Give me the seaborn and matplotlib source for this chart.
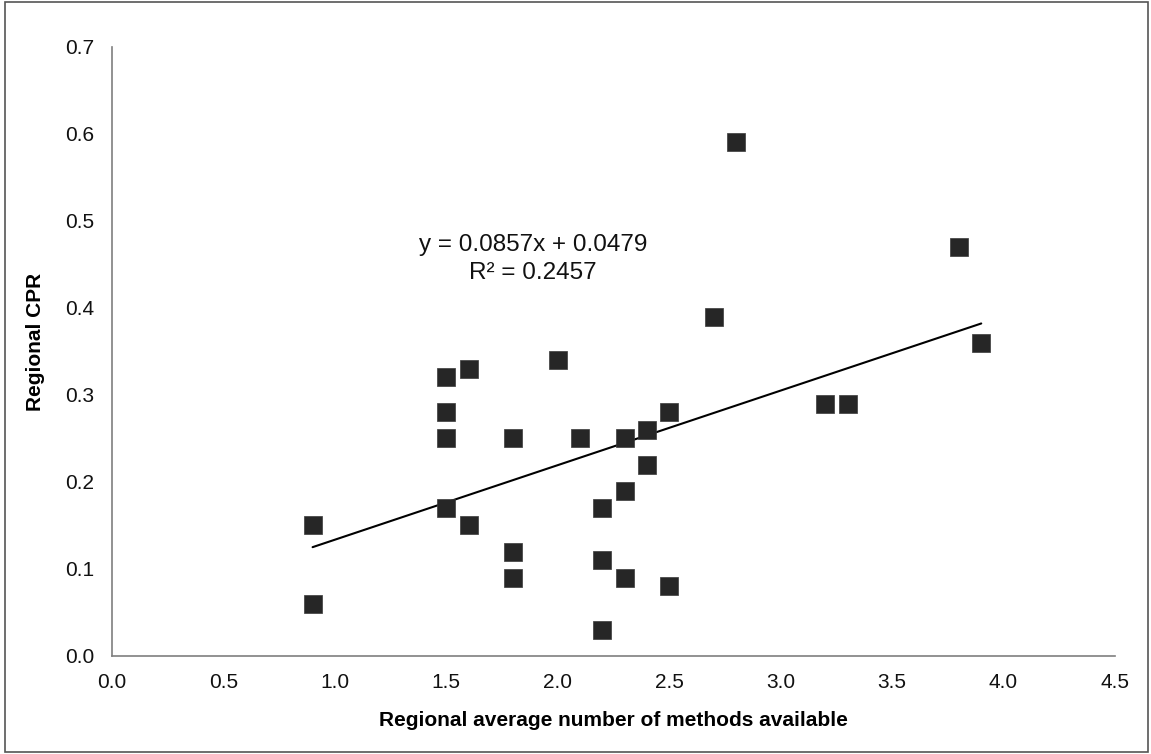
import pandas as pd
import matplotlib.pyplot as plt
import seaborn as sns
from matplotlib.patches import Rectangle

# --- DATOS ---
metodos = [0.9, 0.9, 1.5, 1.5, 1.5, 1.5, 1.6, 1.6, 1.8, 1.8, 1.8, 2.0, 2.1, 2.2, 2.2,
           2.2, 2.3, 2.3, 2.3, 2.4, 2.4, 2.5, 2.5, 2.7, 2.8, 3.2, 3.3, 3.8, 3.9]
cpr = [0.15, 0.06, 0.32, 0.28, 0.25, 0.17, 0.33, 0.15, 0.25, 0.12, 0.09, 0.34, 0.25, 0.17, 0.11,
       0.03, 0.25, 0.19, 0.09, 0.26, 0.22, 0.28, 0.08, 0.39, 0.59, 0.29, 0.29, 0.47, 0.36]
x_ticks = [0.0, 0.5, 1.0, 1.5, 2.0, 2.5, 3.0, 3.5, 4.0, 4.5]
y_ticks = [0.0, 0.1, 0.2, 0.3, 0.4, 0.5, 0.6, 0.7]
ecuacion = "y = 0.0857x + 0.0479"
r2 = "R² = 0.2457"

df = pd.DataFrame({'metodos': metodos, 'cpr': cpr})

sns.set_theme(style="white")
plt.rcParams['font.family'] = ['Liberation Sans', 'DejaVu Sans']

fig = plt.figure(figsize=(11.51, 7.54), dpi=100)
ax = fig.add_axes([0.0973, 0.130, 0.8714, 0.808])

# Puntos
sns.scatterplot(data=df, x='metodos', y='cpr', ax=ax, marker='s', s=160,
                color='#262626', edgecolor='#3a3a3a', linewidth=0.5, zorder=3)

# Línea de tendencia
sns.regplot(data=df, x='metodos', y='cpr', ax=ax, scatter=False, ci=None, truncate=True,
            line_kws={'color': 'black', 'linewidth': 1.5, 'zorder': 2})

ax.text(1.89, 0.472, ecuacion, ha='center', va='center', fontsize=17.5, color='#111111')
ax.text(1.89, 0.440, r2, ha='center', va='center', fontsize=17.5, color='#111111')

ax.set_xlim(0, 4.5)
ax.set_ylim(0, 0.7)
ax.set_xticks(x_ticks)
ax.set_yticks(y_ticks)
ax.set_xticklabels([f"{v:.1f}" for v in x_ticks])
ax.set_yticklabels([f"{v:.1f}" for v in y_ticks])
ax.tick_params(axis='both', length=0, labelsize=15, colors='#111111')
ax.tick_params(axis='y', pad=13)
ax.tick_params(axis='x', pad=12)

ax.set_xlabel('Regional average number of methods available', fontsize=15, fontweight='bold',
              labelpad=14, color='black')
ax.set_ylabel('Regional CPR', fontsize=15, fontweight='bold', color='black')
ax.yaxis.set_label_coords(-0.067, 0.515)

sns.despine(ax=ax)
for lado in ['left', 'bottom']:
    ax.spines[lado].set_color('#7f7f7f')
    ax.spines[lado].set_linewidth(1.2)

# Marco alrededor de la figura
fig.patches.append(Rectangle((0.004, 0.003), 0.993, 0.994, transform=fig.transFigure,
                             fill=False, edgecolor='#555555', linewidth=1.2))

plt.savefig('out.png', dpi=100)
